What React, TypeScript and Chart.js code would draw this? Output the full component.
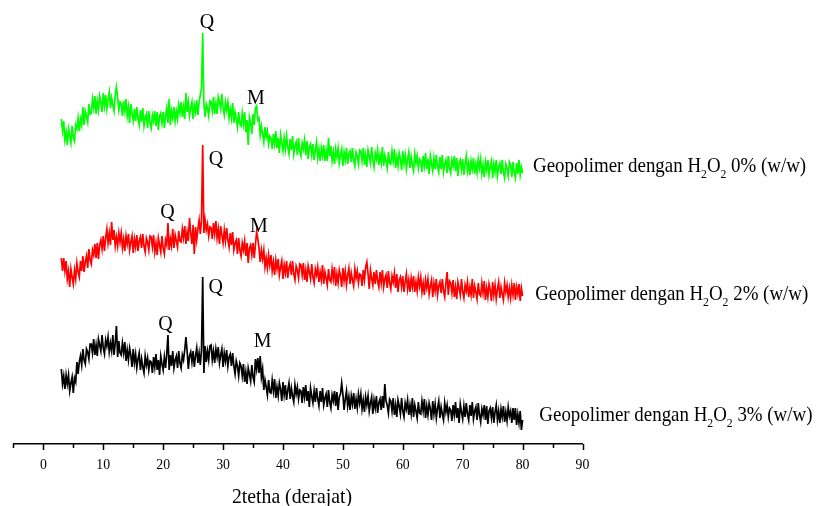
import React, { useEffect, useRef } from "react";
import { Chart, registerables } from "chart.js";

Chart.register(...registerables);

// ---- Data (2-theta sampling grid: start + step) ----
const THETA_START = 3;
const THETA_STEP = 0.2;

const X_MIN = -5;
const X_MAX = 90;
const X_MAJOR_TICKS = [0, 10, 20, 30, 40, 50, 60, 70, 80, 90];
const X_MINOR_TICKS = [-5, 5, 15, 25, 35, 45, 55, 65, 75, 85];
const X_TITLE = "2tetha (derajat)";

const SERIES_NAMES = [
  "Geopolimer dengan H_2O_2 0% (w/w)",
  "Geopolimer dengan H_2O_2 2% (w/w)",
  "Geopolimer dengan H_2O_2 3% (w/w)",
];
const SERIES_COLORS = ["#00ff00", "#ff0000", "#000000"];

// H2O2 0% (green), offset intensity
const H2O2_0 = [
  325,313,323,304,312,299,315,308,301,318,307,303,319,315,326,313,325,319,337,319,333,328,322,340,330,
  331,345,336,348,330,343,334,348,342,332,351,338,349,335,345,352,336,346,339,333,349,357,346,334,342,
  340,328,343,333,345,328,337,321,340,331,323,335,323,337,325,319,334,322,336,318,326,330,316,333,321,
  316,329,323,333,318,332,314,328,331,321,332,316,328,336,321,345,319,333,326,337,323,333,325,339,331,
  342,327,337,325,351,332,342,328,336,342,325,339,332,344,329,342,349,356,411,340,327,340,336,328,343,
  342,333,347,330,341,330,347,342,335,350,336,329,342,334,342,326,335,326,341,321,332,325,317,332,320,
  318,331,320,332,312,324,299,327,321,310,330,319,336,338,324,326,309,318,310,302,317,307,313,300,308,
  306,295,310,300,313,296,306,291,309,301,293,306,295,308,297,290,305,294,308,290,298,302,289,306,293,
  288,301,295,304,289,303,285,297,300,289,300,284,294,302,286,295,283,296,288,299,283,293,283,306,288,
  298,283,292,280,295,287,296,281,289,295,278,292,284,296,280,290,293,282,296,284,278,292,288,280,294,
  293,283,296,279,289,277,294,288,281,297,284,277,291,285,294,279,289,281,297,278,289,283,276,292,281,
  280,293,283,295,276,287,278,291,285,274,293,280,289,275,285,292,276,287,279,273,290,281,288,276,285,
  283,272,288,278,291,275,285,270,288,280,273,286,275,289,278,272,287,275,289,272,280,284,271,288,276,
  271,284,278,288,273,286,268,281,284,274,285,269,280,288,273,281,269,283,275,286,270,280,271,285,276,
  285,270,279,267,282,274,284,269,277,283,266,280,272,284,268,277,281,270,284,272,266,280,276,268,282,
  279,267,282,272,266,281,270,284,269,277,271,
];

// H2O2 2% (red)
const H2O2_2 = [
  186,173,186,173,183,165,173,157,175,167,160,174,165,181,172,167,183,173,188,172,182,188,176,195,184,
  180,194,189,200,186,201,185,199,204,195,208,193,206,215,201,211,199,222,204,214,198,207,198,211,202,
  211,196,205,193,208,200,210,194,202,208,191,205,197,209,193,203,207,196,210,198,192,206,202,194,208,
  207,197,209,192,201,189,206,199,192,208,196,190,204,199,221,194,205,198,215,196,209,203,197,213,203,
  202,215,206,218,200,212,203,226,211,200,219,190,217,204,215,224,210,224,299,211,224,214,220,208,217,
  216,205,221,210,223,206,215,200,218,209,201,214,203,216,204,197,211,199,212,194,201,204,190,206,194,
  188,201,194,203,188,201,181,196,199,189,201,186,199,212,205,196,182,194,185,194,177,186,176,189,179,
  189,173,182,169,184,175,185,169,177,183,165,179,171,183,166,176,180,169,183,170,164,178,174,166,180,
  179,169,181,164,174,162,178,172,165,180,167,161,175,169,177,162,172,164,179,160,172,166,159,175,164,
  162,175,165,177,158,170,161,174,168,157,176,163,173,159,169,176,160,171,164,158,175,166,173,161,170,
  169,158,174,164,177,182,170,155,174,166,159,172,160,174,163,157,172,161,174,157,165,169,156,173,161,
  155,168,162,171,156,170,152,164,167,157,168,152,162,170,155,164,152,166,157,168,152,162,153,167,158,
  167,152,161,149,164,156,165,150,158,164,147,161,153,165,149,158,162,151,165,153,147,161,172,149,163,
  161,151,164,147,157,145,162,156,149,165,152,146,159,153,162,147,157,149,165,146,158,152,145,161,150,
  148,161,151,163,144,156,147,160,154,143,162,149,159,145,155,162,146,157,150,144,161,152,159,147,156,
  146,159,149,161,144,157,150,160,143,156,148,
];

// H2O2 3% (black)
const H2O2_3 = [
  75,60,68,55,69,60,69,53,61,67,51,66,62,82,70,82,88,79,95,84,80,95,92,85,100,
  100,91,105,89,99,88,105,99,93,109,96,90,104,98,107,92,101,93,109,89,101,118,87,103,91,
  89,101,91,102,83,94,84,96,89,77,95,81,90,76,85,91,74,85,77,71,88,79,86,74,83,
  82,71,87,77,90,74,84,69,88,80,74,87,76,90,109,74,89,78,93,76,84,88,76,93,81,
  76,89,84,94,107,93,75,88,92,82,93,77,88,96,81,91,79,94,167,71,98,82,93,84,98,
  99,84,93,81,95,87,97,81,89,95,77,91,83,94,78,87,90,78,91,78,70,83,78,68,81,
  78,68,80,62,72,60,76,70,63,79,67,62,85,75,86,71,88,67,75,54,64,57,49,64,52,
  51,64,53,65,46,57,48,61,55,43,62,49,59,44,54,61,45,56,48,42,59,50,57,45,54,
  53,41,57,47,59,43,53,37,56,48,41,53,42,56,45,38,53,42,56,39,46,50,37,54,42,
  36,49,43,53,38,52,34,47,50,61,50,34,45,53,38,47,34,48,40,51,35,45,36,50,41,
  50,35,44,32,47,39,48,33,41,47,30,44,36,48,31,41,45,34,48,36,60,43,39,31,45,
  43,33,46,29,39,27,44,38,30,46,33,27,41,35,44,29,39,30,46,27,39,33,26,42,31,
  30,43,33,45,26,38,29,41,35,24,43,30,40,26,36,43,26,37,30,24,41,32,39,27,36,
  34,23,39,29,42,26,36,21,40,32,25,38,27,41,30,24,39,28,42,25,33,37,24,41,29,
  22,35,29,39,24,38,20,33,36,26,37,21,32,39,24,33,21,35,27,38,22,32,23,37,28,
  33,21,36,24,36,19,30,21,33,14,24,
];

// Peak markers (text, 2-theta, intensity)
const PEAK_TEXT = ["Q", "M", "Q", "Q", "M", "Q", "Q", "M"];
const PEAK_THETA = [27.33, 35.5, 28.83, 20.7, 35.96, 28.78, 20.37, 36.6];
const PEAK_LEVEL = [416, 340, 279, 226, 212, 151, 114, 97];

// Series label anchors (2-theta, intensity)
const NAME_THETA = [81.75, 82.1, 82.8];
const NAME_LEVEL = [272, 144, 23];

const FONT = '"Liberation Serif", "Times New Roman", Times, serif';

function drawScaledText(
  ctx: CanvasRenderingContext2D,
  text: string,
  x: number,
  y: number,
  size: number,
  sx: number,
  align: "left" | "center"
): number {
  ctx.save();
  ctx.font = `${size}px ${FONT}`;
  const w = ctx.measureText(text).width * sx;
  const x0 = align === "center" ? x - w / 2 : x;
  ctx.translate(x0, y);
  ctx.scale(sx, 1);
  ctx.textAlign = "left";
  ctx.textBaseline = "alphabetic";
  ctx.fillStyle = "#000";
  ctx.fillText(text, 0, 0);
  ctx.restore();
  return w;
}

function drawRichLabel(ctx: CanvasRenderingContext2D, label: string, x: number, y: number) {
  // "_2" marks a subscript digit
  const parts: { t: string; sub: boolean }[] = [];
  let buf = "";
  for (let i = 0; i < label.length; i++) {
    if (label[i] === "_" && i + 1 < label.length) {
      if (buf) parts.push({ t: buf, sub: false });
      buf = "";
      parts.push({ t: label[i + 1], sub: true });
      i++;
    } else buf += label[i];
  }
  if (buf) parts.push({ t: buf, sub: false });
  let cx = x;
  for (const p of parts) {
    if (p.sub) cx += drawScaledText(ctx, p.t, cx, y + 6, 13, 0.9, "left");
    else cx += drawScaledText(ctx, p.t, cx, y, 21, 0.9, "left");
  }
}

const decorPlugin = {
  id: "xrdDecor",
  afterDraw(chart: any) {
    const ctx: CanvasRenderingContext2D = chart.ctx;
    const xs = chart.scales.x;
    const ys = chart.scales.y;
    const bottom = chart.chartArea.bottom;
    ctx.save();
    ctx.strokeStyle = "#000";
    ctx.lineWidth = 1.5;
    for (const v of X_MAJOR_TICKS) {
      const px = Math.round(xs.getPixelForValue(v)) + 0.5;
      ctx.beginPath();
      ctx.moveTo(px, bottom);
      ctx.lineTo(px, bottom + 6);
      ctx.stroke();
    }
    for (const v of X_MINOR_TICKS) {
      const px = Math.round(xs.getPixelForValue(v)) + 0.5;
      ctx.beginPath();
      ctx.moveTo(px, bottom);
      ctx.lineTo(px, bottom + 4);
      ctx.stroke();
    }
    ctx.restore();
    for (const v of X_MAJOR_TICKS) {
      drawScaledText(ctx, String(v), xs.getPixelForValue(v), bottom + 25, 15, 0.92, "center");
    }
    drawScaledText(ctx, X_TITLE, xs.getPixelForValue(41.5), bottom + 59, 21, 0.94, "center");
    for (let i = 0; i < PEAK_TEXT.length; i++) {
      drawScaledText(ctx, PEAK_TEXT[i], xs.getPixelForValue(PEAK_THETA[i]), ys.getPixelForValue(PEAK_LEVEL[i]), 20, 1, "center");
    }
    for (let i = 0; i < SERIES_NAMES.length; i++) {
      drawRichLabel(ctx, SERIES_NAMES[i], xs.getPixelForValue(NAME_THETA[i]), ys.getPixelForValue(NAME_LEVEL[i]));
    }
  },
};

function toPoints(values: number[]) {
  return values.map((y, i) => ({ x: THETA_START + i * THETA_STEP, y }));
}

export default function App() {
  const ref = useRef<HTMLCanvasElement | null>(null);
  useEffect(() => {
    if (!ref.current) return;
    const series = [H2O2_0, H2O2_2, H2O2_3];
    const chart = new Chart(ref.current, {
      type: "line",
      data: {
        datasets: series.map((vals, i) => ({
          label: SERIES_NAMES[i],
          data: toPoints(vals),
          borderColor: SERIES_COLORS[i],
          backgroundColor: SERIES_COLORS[i],
          borderWidth: 1.7,
          pointRadius: 0,
          tension: 0,
          fill: false,
        })),
      },
      options: {
        animation: false,
        responsive: false,
        devicePixelRatio: 1,
        layout: { padding: { left: 13.4, right: 239.5, top: 24, bottom: 62 } },
        plugins: { legend: { display: false }, tooltip: { enabled: false }, title: { display: false } },
        scales: {
          x: {
            type: "linear",
            min: X_MIN,
            max: X_MAX,
            display: true,
            grid: { display: false, drawTicks: false },
            ticks: { display: false },
            border: { display: true, color: "#000", width: 1.5 },
          },
          y: { type: "linear", min: 0, max: 420, display: false },
        },
      },
      plugins: [decorPlugin],
    });
    return () => chart.destroy();
  }, []);
  return (
    <div style={{ position: "absolute", left: 0, top: 0, width: 822, height: 506, background: "#fff" }}>
      <canvas ref={ref} width={822} height={506} style={{ display: "block" }} />
    </div>
  );
}
